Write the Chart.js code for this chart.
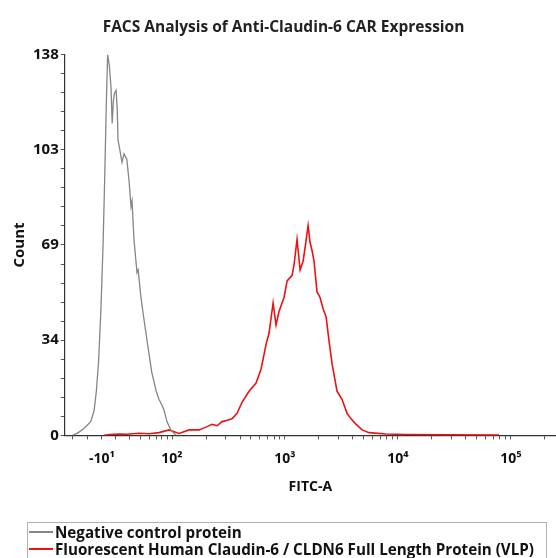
<!DOCTYPE html>
<html>
<head>
<meta charset="utf-8">
<script src="https://cdn.jsdelivr.net/npm/chart.js@4.4.1/dist/chart.umd.min.js"></script>
<style>
    body { margin: 0; background: #fff; }
    #wrap { position: relative; width: 556px; height: 558px; overflow: hidden; }
    #legend {
        position: absolute; left: 27px; top: 522px; width: 520px; height: 60px;
        border: 1px solid #b0b0b0; box-sizing: border-box; padding: 0 0 0 1px;
        font-family: "Open Sans", sans-serif; font-weight: bold; font-size: 15.2px; color: #111;
    }
    .item { display: flex; align-items: center; height: 17px; white-space: nowrap; }
    .swatch { width: 24px; height: 2px; margin-right: 2px; }
</style>
</head>
<body>
<div id="wrap">
    <canvas id="chart" width="556" height="558"></canvas>
    <div id="legend"></div>
</div>
<script>
// x values are in display (decade) units of the biexponential FITC axis
const grayX = [1.12, 1.17, 1.22, 1.28, 1.31, 1.33, 1.35, 1.37, 1.39, 1.405, 1.418, 1.43, 1.445, 1.46, 1.47, 1.48, 1.49, 1.505, 1.515, 1.522, 1.54, 1.557, 1.575, 1.6, 1.62, 1.637, 1.646, 1.663, 1.69, 1.7, 1.725, 1.745, 1.78, 1.82, 1.86, 1.885, 1.91, 1.93, 1.955, 1.99, 2.035];
const grayCount = [0, 1, 2.5, 5, 9, 16, 27, 45, 70, 95, 120, 138, 134, 126, 113, 121, 124, 125, 118, 107, 103, 99, 102, 100, 92, 83, 85, 71, 59, 60, 50, 44, 34, 23, 16, 13, 11, 9, 5, 2, 0];

const redX = [1.398, 1.45, 1.531, 1.6, 1.708, 1.8, 1.885, 1.973, 2.062, 2.151, 2.239, 2.3, 2.354, 2.4, 2.443, 2.49, 2.531, 2.576, 2.62, 2.682, 2.744, 2.788, 2.833, 2.859, 2.895, 2.921, 2.948, 2.992, 3.019, 3.063, 3.081, 3.107, 3.134, 3.16, 3.178, 3.205, 3.222, 3.24, 3.258, 3.284, 3.311, 3.337, 3.364, 3.391, 3.417, 3.461, 3.506, 3.55, 3.585, 3.63, 3.683, 3.745, 3.895, 4.073, 4.454, 4.896];
const redCount = [0, 0.3, 0.5, 0.4, 0.8, 0.6, 1, 2, 0.7, 2, 2, 3, 4, 3.5, 5, 5.5, 6, 8, 12, 16, 19, 24, 33, 37, 48, 40, 45, 50, 56, 58, 62, 71, 60, 63, 68, 76, 70, 67, 63, 52, 50, 46, 43, 34, 26, 16, 13, 8, 6, 4, 2, 1, 0.5, 0.3, 0.2, 0.1];

const seriesNames = ['Negative control protein', 'Fluorescent Human Claudin-6 / CLDN6 Full Length Protein (VLP)'];

const xMajorTicks = [1.38, 2, 3, 4, 5];
const xMajorLabels = ['-10\u00b9', '10\u00b2', '10\u00b3', '10\u2074', '10\u2075'];
const xMinorTicks = [1.12, 1.25, 1.5, 1.62, 1.72, 1.8, 1.86, 1.91, 1.96];

const yMajorTicks = [0, 34.5, 69, 103.5, 138];

function logMinors(decades) {
    const out = [];
    decades.forEach(d => {
        for (let k = 2; k <= 9; k++) out.push(d + Math.log10(k));
    });
    return out;
}

const xTicks = xMajorTicks.concat(xMinorTicks, logMinors([2, 3, 4, 5])).filter(v => v <= 5.4).sort((a, b) => a - b);
const yTicks = [];
for (let i = 0; i <= 20; i++) yTicks.push(i * 138 / 20);

const font = { family: '"Open Sans", sans-serif', weight: 'bold', size: 14 };
const yFont = { family: '"Open Sans", sans-serif', weight: 'bold', size: 15 };

function toPoints(xs, ys) {
    return xs.map((x, i) => ({ x: x, y: ys[i] }));
}

const chart = new Chart(document.getElementById('chart'), {
    type: 'line',
    data: {
        datasets: [{
            label: seriesNames[0],
            data: toPoints(grayX, grayCount),
            borderColor: '#858585',
            borderWidth: 1.3,
            pointRadius: 0,
            tension: 0
        }, {
            label: seriesNames[1],
            data: toPoints(redX, redCount),
            borderColor: '#ee1111',
            borderWidth: 1.6,
            pointRadius: 0,
            tension: 0
        }]
    },
    options: {
        responsive: false,
        animation: false,
        layout: { padding: { left: 11, right: 0, top: 0, bottom: 63 } },
        plugins: {
            legend: { display: false },
            tooltip: { enabled: false },
            title: {
                display: true,
                text: 'FACS Analysis of Anti-Claudin-6 CAR Expression',
                color: '#222',
                font: { family: '"Open Sans", sans-serif', weight: 'bold', size: 15.5 },
                padding: { top: 18, bottom: 18 }
            }
        },
        scales: {
            x: {
                type: 'linear',
                min: 1.05,
                max: 5.4,
                afterBuildTicks: scale => { scale.ticks = xTicks.map(v => ({ value: v })); },
                ticks: {
                    autoSkip: false,
                    maxRotation: 0,
                    color: '#111',
                    font: font,
                    padding: 11,
                    callback: value => {
                        const i = xMajorTicks.findIndex(t => Math.abs(t - value) < 1e-6);
                        return i >= 0 ? xMajorLabels[i] : '';
                    }
                },
                grid: { drawOnChartArea: false, tickLength: 4, color: '#555' },
                border: { color: '#333', width: 1.2 },
                title: { display: true, text: 'FITC-A', color: '#111', font: font, padding: { top: 0, bottom: 0 } }
            },
            y: {
                min: 0,
                max: 138,
                afterBuildTicks: scale => { scale.ticks = yTicks.map(v => ({ value: v })); },
                ticks: {
                    autoSkip: false,
                    color: '#111',
                    font: yFont,
                    padding: 2,
                    callback: value => {
                        const major = yMajorTicks.some(t => Math.abs(t - value) < 1e-6);
                        return major ? String(Math.floor(value)) : '';
                    }
                },
                grid: { drawOnChartArea: false, tickLength: 4, color: '#555' },
                border: { color: '#333', width: 1.2 },
                title: { display: true, text: 'Count', color: '#111', font: yFont, padding: { top: 0, bottom: 2 } }
            }
        }
    }
});

// HTML legend built from the chart's datasets
const legendEl = document.getElementById('legend');
chart.data.datasets.forEach(ds => {
    const item = document.createElement('div');
    item.className = 'item';
    const sw = document.createElement('span');
    sw.className = 'swatch';
    sw.style.background = ds.borderColor;
    const txt = document.createElement('span');
    txt.textContent = ds.label;
    item.appendChild(sw);
    item.appendChild(txt);
    legendEl.appendChild(item);
});
</script>
</body>
</html>
